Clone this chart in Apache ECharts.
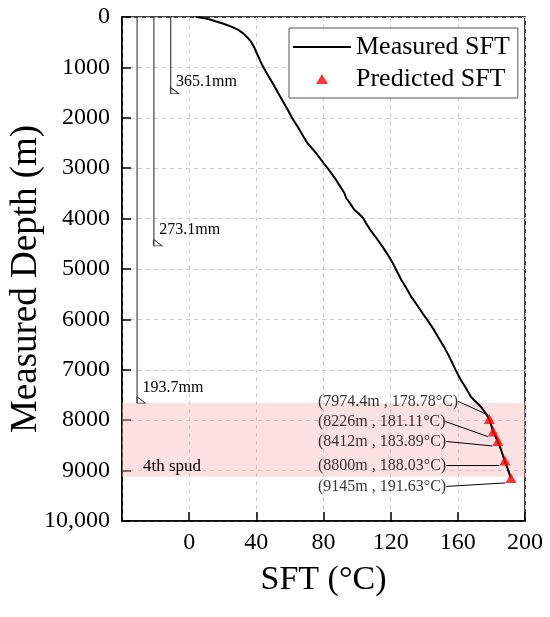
<!DOCTYPE html>
<html>
<head>
<meta charset="utf-8">
<script src="https://cdn.jsdelivr.net/npm/echarts@6/dist/echarts.min.js"></script>
<style>
  html, body { margin: 0; padding: 0; background: #fff; }
  #main { width: 550px; height: 617px; }
</style>
</head>
<body>
<div id="main"></div>
<script>
// measured static formation temperature profile
const measuredDepth = [0, 10, 30, 60, 90, 130, 190, 250, 320, 410, 500, 600, 714, 830, 946, 1060, 1178,
  1340, 1508, 1670, 1839, 2000, 2170, 2330, 2500, 2700, 2897, 3060, 3228, 3380, 3492, 3591, 3700, 3823, 3889,
  3988, 4100, 4250, 4400, 4551, 4720, 4881, 5050, 5212, 5380, 5543, 5700, 5873, 6040, 6204, 6370, 6535,
  6700, 6865, 7030, 7196, 7360, 7527, 7620, 7725, 7850, 7974, 8100, 8226, 8412, 8600, 8800, 8970, 9145];
const measuredTemp = [4.0, 6.5, 10.0, 13.5, 16.0, 20.0, 25.1, 29.0, 32.0, 34.8, 37.0, 38.7, 40.2, 41.8, 43.4, 45.3, 47.3,
  50.2, 53.0, 55.8, 58.7, 61.2, 64.5, 67.3, 70.4, 75.6, 80.0, 83.8, 87.4, 90.3, 92.4, 93.5, 95.9, 98.3, 100.6,
  103.6, 105.5, 108.4, 111.8, 115.0, 118.4, 121.2, 123.8, 126.3, 129.4, 132.1, 135.4, 138.9, 142.4, 145.7, 148.6, 151.6,
  154.3, 156.7, 159.1, 161.7, 164.8, 167.6, 170.2, 173.5, 176.4, 178.6, 179.9, 181.0, 183.7, 185.9, 187.8, 189.8, 191.5];

// predicted points
const predDepth = [7974.4, 8226, 8412, 8800, 9145];
const predTemp = [178.78, 181.11, 183.89, 188.03, 191.63];

// casing strings (schematic x position, shoe depth)
const casingNames = ['365.1mm', '273.1mm', '193.7mm'];
const casingX = [-11, -21, -31];
const casingShoe = [1520, 4540, 7660];

// 4th spud interval
const spudTop = 7660;
const spudBottom = 9120;

const xTicks = [-40, 0, 40, 80, 120, 160, 200];
const yTicks = [0, 1000, 2000, 3000, 4000, 5000, 6000, 7000, 8000, 9000, 10000];

const FONT = '"Liberation Serif", "Times New Roman", serif';
const labelDy = [-17.5, -10, 0.5, 5, 8.5];
const casingLabelDy = [-13, -18, -17];

const myChart = echarts.init(document.getElementById('main'));

const casingSeries = casingNames.map(function (name, i) {
  return {
    name: name,
    type: 'line',
    silent: true,
    showSymbol: true,
    showAllSymbol: true,
    z: 1,
    lineStyle: { color: '#444', width: 1.2 },
    data: [
      { value: [casingX[i], 0], symbol: 'none' },
      {
        value: [casingX[i], casingShoe[i]],
        symbol: 'path://M0,0 L0,6 L8,6 Z',
        symbolSize: [8, 6],
        symbolOffset: [4, -3],
        itemStyle: { color: '#fff', borderColor: '#333', borderWidth: 1 },
        label: {
          show: true,
          formatter: name,
          position: [6, casingLabelDy[i]],
          color: '#000',
          fontFamily: FONT,
          fontSize: 16
        }
      }
    ]
  };
});

const option = {
  backgroundColor: '#fff',
  animation: false,
  grid: {
    left: 122,
    right: 25,
    top: 17,
    bottom: 96,
    outerBoundsMode: 'none',
    containLabel: false,
    show: true,
    borderColor: '#000',
    borderWidth: 1.5
  },
  legend: {
    left: 289,
    top: 28,
    orient: 'vertical',
    backgroundColor: '#fff',
    borderColor: '#555',
    borderWidth: 1,
    borderRadius: 0,
    padding: [5, 8, 5, 4],
    itemGap: 4,
    itemWidth: 58,
    itemHeight: 12,
    textStyle: { fontFamily: FONT, fontSize: 26, color: '#000', lineHeight: 28 },
    data: [
      { name: 'Measured SFT', icon: 'path://M0,0 M58,12 M0,5 L58,5 L58,7 L0,7 Z' },
      { name: 'Predicted SFT', icon: 'path://M0,0 M58,12 M23,11 L29,1 L35,11 Z' }
    ]
  },
  xAxis: {
    type: 'value',
    min: xTicks[0],
    max: xTicks[xTicks.length - 1],
    interval: 40,
    name: 'SFT (°C)',
    nameLocation: 'middle',
    nameGap: 42,
    nameMoveOverlap: false,
    nameTextStyle: { fontFamily: FONT, fontSize: 34, color: '#000' },
    axisLine: { onZero: false, lineStyle: { color: '#000', width: 1.5 } },
    axisTick: { inside: true, length: 9, lineStyle: { color: '#000', width: 1.5 } },
    axisLabel: {
      showMinLabel: false,
      margin: 10,
      fontFamily: FONT,
      fontSize: 24,
      color: '#000'
    },
    splitLine: { lineStyle: { color: '#ccc', type: [4, 4], width: 1 } }
  },
  yAxis: {
    type: 'value',
    inverse: true,
    min: yTicks[0],
    max: yTicks[yTicks.length - 1],
    interval: 1000,
    name: 'Measured Depth (m)',
    nameLocation: 'middle',
    nameGap: 77,
    nameMoveOverlap: false,
    nameTextStyle: { fontFamily: FONT, fontSize: 37, color: '#000', padding: [0, 20, 0, 0] },
    axisLine: { onZero: false, lineStyle: { color: '#000', width: 1.5 } },
    axisTick: { inside: true, length: 9, lineStyle: { color: '#000', width: 1.5 } },
    axisLabel: {
      margin: 12,
      fontFamily: FONT,
      fontSize: 24,
      color: '#000',
      formatter: function (v) { return v === 10000 ? '10,000' : String(v); }
    },
    splitLine: { lineStyle: { color: '#ccc', type: [4, 4], width: 1 } }
  },
  series: casingSeries.concat([
    {
      name: 'Measured SFT',
      type: 'line',
      symbol: 'none',
      z: 3,
      lineStyle: { color: '#000', width: 2 },
      itemStyle: { color: '#000' },
      data: measuredDepth.map(function (d, i) { return [measuredTemp[i], d]; }),
      markArea: {
        silent: true,
        itemStyle: { color: 'rgba(248, 180, 186, 0.4)' },
        label: {
          show: true,
          position: [21, 55],
          color: '#000',
          fontFamily: FONT,
          fontSize: 17
        },
        data: [[{ name: '4th spud', yAxis: spudTop }, { yAxis: spudBottom }]]
      }
    },
    {
      name: 'Predicted SFT',
      type: 'scatter',
      symbol: 'triangle',
      symbolSize: [11, 10],
      z: 4,
      itemStyle: { color: '#ff0000' },
      data: predDepth.map(function (d, i) { return [predTemp[i], d]; }),
      label: {
        show: true,
        color: '#000',
        fontFamily: FONT,
        fontSize: 16,
        formatter: function (p) {
          return '(' + predDepth[p.dataIndex] + 'm , ' + predTemp[p.dataIndex].toFixed(2) + '°C)';
        }
      },
      labelLine: { show: true, lineStyle: { color: '#000', width: 1 } },
      labelLayout: function (params) {
        return {
          x: 318,
          y: params.rect.y + params.rect.height / 2 + labelDy[params.dataIndex],
          align: 'left',
          verticalAlign: 'middle'
        };
      }
    }
  ])
};

myChart.setOption(option);
</script>
</body>
</html>
